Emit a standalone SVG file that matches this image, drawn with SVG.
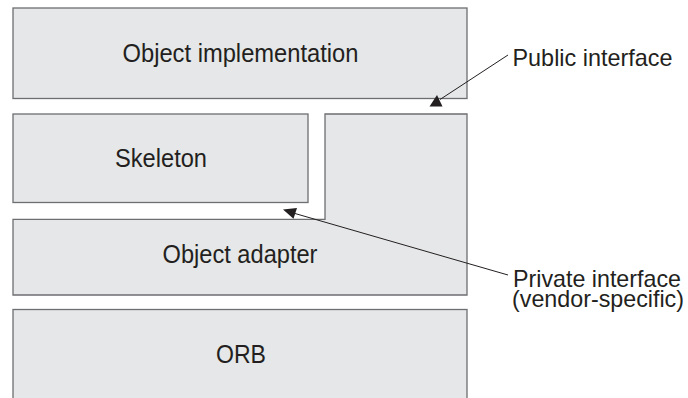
<svg xmlns="http://www.w3.org/2000/svg" width="688" height="398" viewBox="0 0 688 398">
  <style>
    .box { fill: #e6e7e8; stroke: #6d6e71; stroke-width: 1.3; }
    .lbl { font-family: "Liberation Sans", Arial, sans-serif; font-size: 25px; fill: #231f20; }
    .side { font-size: 24px; }
    .mid { text-anchor: middle; }
    .lead { fill: none; stroke: #231f20; stroke-width: 1; }
    .head { fill: #231f20; stroke: none; }
  </style>
  <rect width="688" height="398" fill="#ffffff"/>

  <g id="object-implementation">
    <rect class="box" x="13" y="8" width="454" height="90.5"/>
    <text class="lbl mid" x="240.5" y="62" textLength="236" lengthAdjust="spacingAndGlyphs">Object implementation</text>
  </g>

  <g id="skeleton">
    <rect class="box" x="13" y="114" width="295" height="88.5"/>
    <text class="lbl mid" x="161" y="166.5" textLength="92" lengthAdjust="spacingAndGlyphs">Skeleton</text>
  </g>

  <g id="object-adapter">
    <path class="box" d="M13,219.3 H325 V114 H467 V295 H13 Z"/>
    <text class="lbl mid" x="240" y="263" textLength="155" lengthAdjust="spacingAndGlyphs">Object adapter</text>
  </g>

  <g id="orb">
    <rect class="box" x="13" y="309.5" width="454" height="100"/>
    <text class="lbl mid" x="241" y="363" textLength="50" lengthAdjust="spacingAndGlyphs">ORB</text>
  </g>

  <g id="public-interface">
    <text class="lbl side" x="512.5" y="65.5" textLength="160" lengthAdjust="spacingAndGlyphs">Public interface</text>
  </g>

  <g id="private-interface">
    <text class="lbl side" x="513" y="286.5" textLength="168" lengthAdjust="spacingAndGlyphs">Private interface</text>
    <text class="lbl side" x="512" y="307" textLength="172" lengthAdjust="spacingAndGlyphs">(vendor-specific)</text>
  </g>

  <g id="connectors">
    <line class="lead" x1="508" y1="55" x2="440" y2="99.5"/>
    <polygon class="head" points="429.5,106.5 442.5,106.5 437,95"/>
    <line class="lead" x1="508" y1="275" x2="295" y2="213.5"/>
    <polygon class="head" points="283,209.5 297,208 293.5,218.8"/>
  </g>
</svg>
